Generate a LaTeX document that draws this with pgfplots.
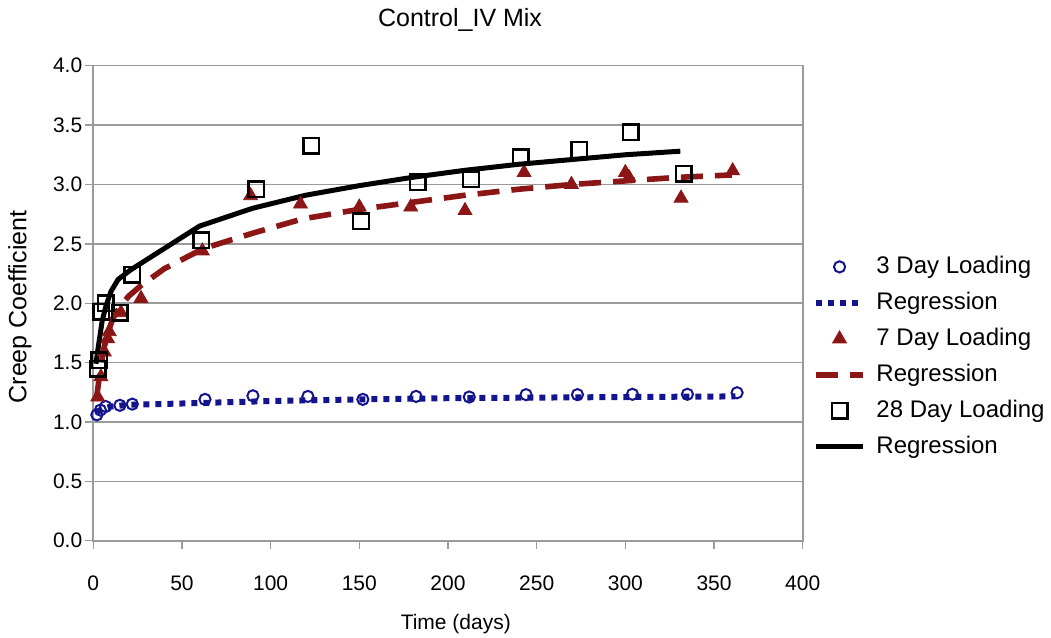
\documentclass[border=0pt]{standalone}
\usepackage{pgfplots}
\pgfplotsset{compat=1.18}
\usepackage{fontspec}
\setmainfont{Liberation Sans}
\definecolor{cblue}{RGB}{20,20,140}
\definecolor{cred}{RGB}{140,22,22}
\definecolor{cgrid}{RGB}{155,155,155}
\begin{document}
\begin{tikzpicture}
\begin{axis}[
  scale only axis,
  width=354.7pt, height=237.5pt,
  xmin=0, xmax=400, ymin=0, ymax=4,
  xtick={0,50,...,400}, ytick={0,0.5,...,4},
  xtick pos=bottom, ytick pos=left,
  tick align=outside,
  major tick length=4pt,
  every tick/.style={cgrid, line width=0.7pt},
  axis line style={cgrid, line width=0.8pt},
  ymajorgrids,
  major grid style={cgrid, line width=0.75pt},
  /pgf/number format/assume math mode=true,
  tick label style={font=\fontsize{10.5}{12}\selectfont},
  yticklabel style={xshift=2pt, /pgf/number format/.cd, fixed, fixed zerofill, precision=1},
  xticklabel style={yshift=-10pt},
  every axis title shift=0pt,
  title={Control\_IV Mix},
  title style={font=\fontsize{12.5}{14}\selectfont, at={(axis description cs:0.517,1.096)}, anchor=center},
  xlabel={Time (days)},
  xlabel style={font=\fontsize{10.5}{12}\selectfont, at={(axis description cs:0.511,-0.175)}, anchor=center},
  ylabel={Creep Coefficient},
  ylabel style={font=\fontsize{12.5}{14}\selectfont, at={(axis description cs:-0.1033,0.492)}, anchor=center, rotate=0},
  legend style={draw=none, fill=none, at={(axis description cs:1.005,0.387)}, anchor=west,
    font=\fontsize{12}{14}\selectfont, legend cell align=left,
    nodes={inner sep=1pt, text height=8.6pt, text depth=2.4pt},
    row sep=5pt, column sep=4pt},
  legend image code/.code={\draw[mark repeat=2,mark phase=2,#1] plot coordinates {(0cm,0cm) (0.42cm,0cm) (0.84cm,0cm)};},
]
% 3 day loading
\addplot[only marks, mark=o, mark size=2.8pt, cblue, mark options={line width=1pt}] coordinates {
(2,1.06) (4,1.10) (7,1.13) (15,1.14) (22,1.15) (63,1.19) (90,1.22) (121,1.215)
(152,1.19) (182,1.215) (212,1.21) (244,1.23) (273,1.23) (304,1.233) (335,1.233) (363,1.246)};
\addlegendentry{3 Day Loading}
\addplot[cblue, line width=3pt, dash pattern=on 3pt off 3pt, no marks] coordinates {
(2,1.08) (5,1.11) (10,1.13) (20,1.145) (49,1.155) (100,1.176) (150,1.19) (200,1.20) (250,1.205) (300,1.21) (362,1.215)};
\addlegendentry{Regression}
% 7 day loading
\addplot[only marks, mark=triangle*, mark size=4pt, cred] coordinates {
(2.5,1.21) (4.3,1.38) (6.2,1.59) (8.1,1.70) (9,1.76) (15.6,1.92) (26.9,2.04) (61.5,2.44)
(88.7,2.905) (116.8,2.835) (150,2.81) (179,2.81) (209.6,2.78) (242.9,3.10) (269.6,3.00)
(300,3.10) (302,3.06) (331.4,2.885) (360.5,3.115)};
\addlegendentry{7 Day Loading}
\addplot[cred, line width=2.8pt, dash pattern=on 11pt off 6pt, no marks] coordinates {
(2,1.22) (4,1.45) (6,1.62) (8,1.74) (11,1.87) (15,1.97) (20,2.06) (27,2.15) (40,2.29) (62,2.46)
(90,2.59) (118,2.71) (150,2.79) (180,2.85) (210,2.91) (240,2.96) (270,3.00) (300,3.03) (330,3.06) (360,3.08)};
\addlegendentry{Regression}
% 28 day loading
\addplot[only marks, mark=square, mark size=3.9pt, black, mark options={line width=1.2pt}] coordinates {
(2.5,1.45) (3.4,1.52) (4.5,1.93) (7,2.00) (15,1.92) (22,2.24) (61,2.53) (92,2.96) (123,3.325)
(151,2.69) (183,3.02) (213,3.045) (241,3.23) (274,3.29) (303,3.44) (333,3.09)};
\addlegendentry{28 Day Loading}
\addplot[black, line width=2.5pt, no marks] coordinates {
(1.5,1.49) (3,1.65) (5,1.85) (7,1.97) (10,2.10) (14,2.20) (21,2.28) (60,2.65) (90,2.80) (120,2.91)
(150,2.99) (180,3.06) (210,3.12) (240,3.17) (270,3.21) (300,3.25) (331,3.28)};
\addlegendentry{Regression}
\coordinate (bbbl) at (rel axis cs:-0.1315,-0.2048);
\coordinate (bbtr) at (rel axis cs:1.350,1.1383);
\end{axis}
\pgfresetboundingbox
\useasboundingbox (bbbl) rectangle (bbtr);
\end{tikzpicture}
\end{document}
